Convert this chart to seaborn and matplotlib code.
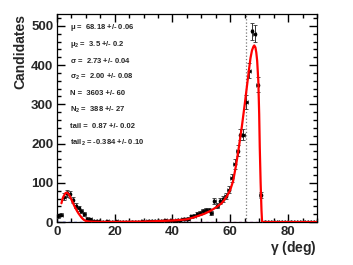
import matplotlib

matplotlib.use("Agg")
import matplotlib.pyplot as plt
import numpy as np
import pandas as pd
import seaborn as sns
from matplotlib.ticker import MultipleLocator

# histogram bin centres (deg) and candidate counts
bin_centres = [i + 0.5 for i in range(90)]
counts = [
    15, 19, 65, 73, 71, 56, 41, 35, 28, 20,
    9, 7, 3, 2, 2, 1, 1, 2, 1, 1,
    2, 1, 1, 1, 0, 1, 1, 1, 0, 2,
    1, 2, 2, 3, 3, 4, 3, 5, 4, 6,
    4, 5, 6, 7, 8, 9, 15, 16, 20, 24,
    28, 31, 31, 24, 54, 41, 54, 58, 66, 82,
    113, 148, 182, 223, 223, 306, 386, 486, 480, 350,
    69, 0, 0, 0, 0, 0, 0, 0, 0, 0,
    0, 0, 0, 0, 0, 0, 0, 0, 0, 0,
]

# fitted curve
fit_x = [1.6, 2.0, 2.5, 3.0, 3.5, 4.0, 4.5, 5.0, 5.5, 6.0, 6.5, 7.0, 7.5,
         8.0, 8.5, 9.0, 9.5, 10.0, 11.0, 12.0, 15.0, 20.0, 25.0, 30.0,
         35.0, 40.0, 43.0, 45.0, 47.0, 49.0, 51.0, 53.0, 55.0, 57.0, 58.0,
         59.0, 60.0, 61.0, 62.0, 63.0, 64.0, 65.0, 66.0, 66.5, 67.0, 67.5,
         68.0, 68.3, 68.7, 69.0, 69.3, 69.7, 70.0, 70.2, 70.5, 70.8, 71.0,
         80.0, 90.0]
fit_y = [48, 60, 68, 74, 75, 72, 66, 58, 50, 42, 35, 28, 22,
         17, 12, 8, 5, 3, 1.5, 1, 0.5, 0.5, 0.8, 1.2,
         2.5, 4, 5.5, 7, 11, 16, 21, 28, 37, 48, 57,
         68, 82, 105, 145, 192, 243, 300, 360, 390, 418, 437,
         447, 450, 445, 432, 411, 360, 275, 191, 100, 30, 0,
         0, 0]

# background components (flat at zero)
comp1_x = [0, 45]
comp1_y = [0, 0]
comp2_x = [40, 90]
comp2_y = [0, 0]

cut_value = 65.6

fit_lines = [
    r"$\mu$ =  68.18 +/- 0.06",
    r"$\mu_2$ =  3.5 +/- 0.2",
    r"$\sigma$ =  2.73 +/- 0.04",
    r"$\sigma_2$ =  2.00 +/- 0.08",
    "N =  3603 +/- 60",
    r"N$_2$ =  388 +/- 27",
    "tail =  0.87 +/- 0.02",
    r"tail$_2$ = -0.384 +/- 0.10",
]

sns.set_style("ticks")
plt.rcParams["font.family"] = ["Liberation Sans", "DejaVu Sans"]
plt.rcParams["mathtext.fontset"] = "custom"
plt.rcParams["mathtext.rm"] = "Liberation Sans:bold"
plt.rcParams["mathtext.it"] = "Liberation Sans:bold"
plt.rcParams["mathtext.bf"] = "Liberation Sans:bold"

data = pd.DataFrame({"gamma": bin_centres, "count": counts})
fit = pd.DataFrame({"gamma": fit_x, "value": fit_y})

fig = plt.figure(figsize=(3.53, 2.65), dpi=100)
ax = fig.add_axes([0.161, 0.162, 0.737, 0.785])

ax.errorbar(
    data["gamma"], data["count"],
    yerr=np.sqrt(data["count"]), xerr=0.5,
    fmt="none", ecolor="#333333", elinewidth=0.7, capsize=1.2, capthick=0.6,
    zorder=3,
)
sns.scatterplot(
    data=data, x="gamma", y="count", color="black", s=7, marker="o",
    linewidth=0, ax=ax, zorder=4,
)
sns.lineplot(data=fit, x="gamma", y="value", color="red", linewidth=1.6,
             ax=ax, zorder=5)
ax.plot(comp1_x, comp1_y, color="#3333ff", linestyle=(0, (2, 2)),
        linewidth=1.0, zorder=2)
ax.plot(comp2_x, comp2_y, color="#cc33cc", linestyle=(0, (2, 2)),
        linewidth=1.0, zorder=2)
ax.axvline(cut_value, color="#777777", linestyle=":", linewidth=0.9, zorder=1)

for i, line in enumerate(fit_lines):
    ax.text(0.05, 0.935 - i * 0.079, line, transform=ax.transAxes,
            fontsize=5.5, fontweight="bold", va="center", ha="left")

ax.set_xlim(0, 90)
ax.set_ylim(0, 530)
ax.xaxis.set_major_locator(MultipleLocator(20))
ax.xaxis.set_minor_locator(MultipleLocator(5))
ax.yaxis.set_major_locator(MultipleLocator(100))
ax.yaxis.set_minor_locator(MultipleLocator(20))
ax.tick_params(which="both", direction="in", top=True, right=True,
               width=1.0, labelsize=9.5, color="black")
ax.tick_params(which="major", length=6, pad=2.5)
ax.tick_params(which="minor", length=3)
for lab in ax.get_xticklabels() + ax.get_yticklabels():
    lab.set_fontweight("bold")
for spine in ax.spines.values():
    spine.set_linewidth(0.9)
    spine.set_color("black")

ax.set_xlabel(r"$\gamma$ (deg)", fontsize=10, fontweight="bold", loc="right",
              labelpad=1)
ax.set_ylabel("Candidates", fontsize=10, fontweight="bold", loc="top",
              labelpad=3)

plt.savefig("out.png", dpi=100)
